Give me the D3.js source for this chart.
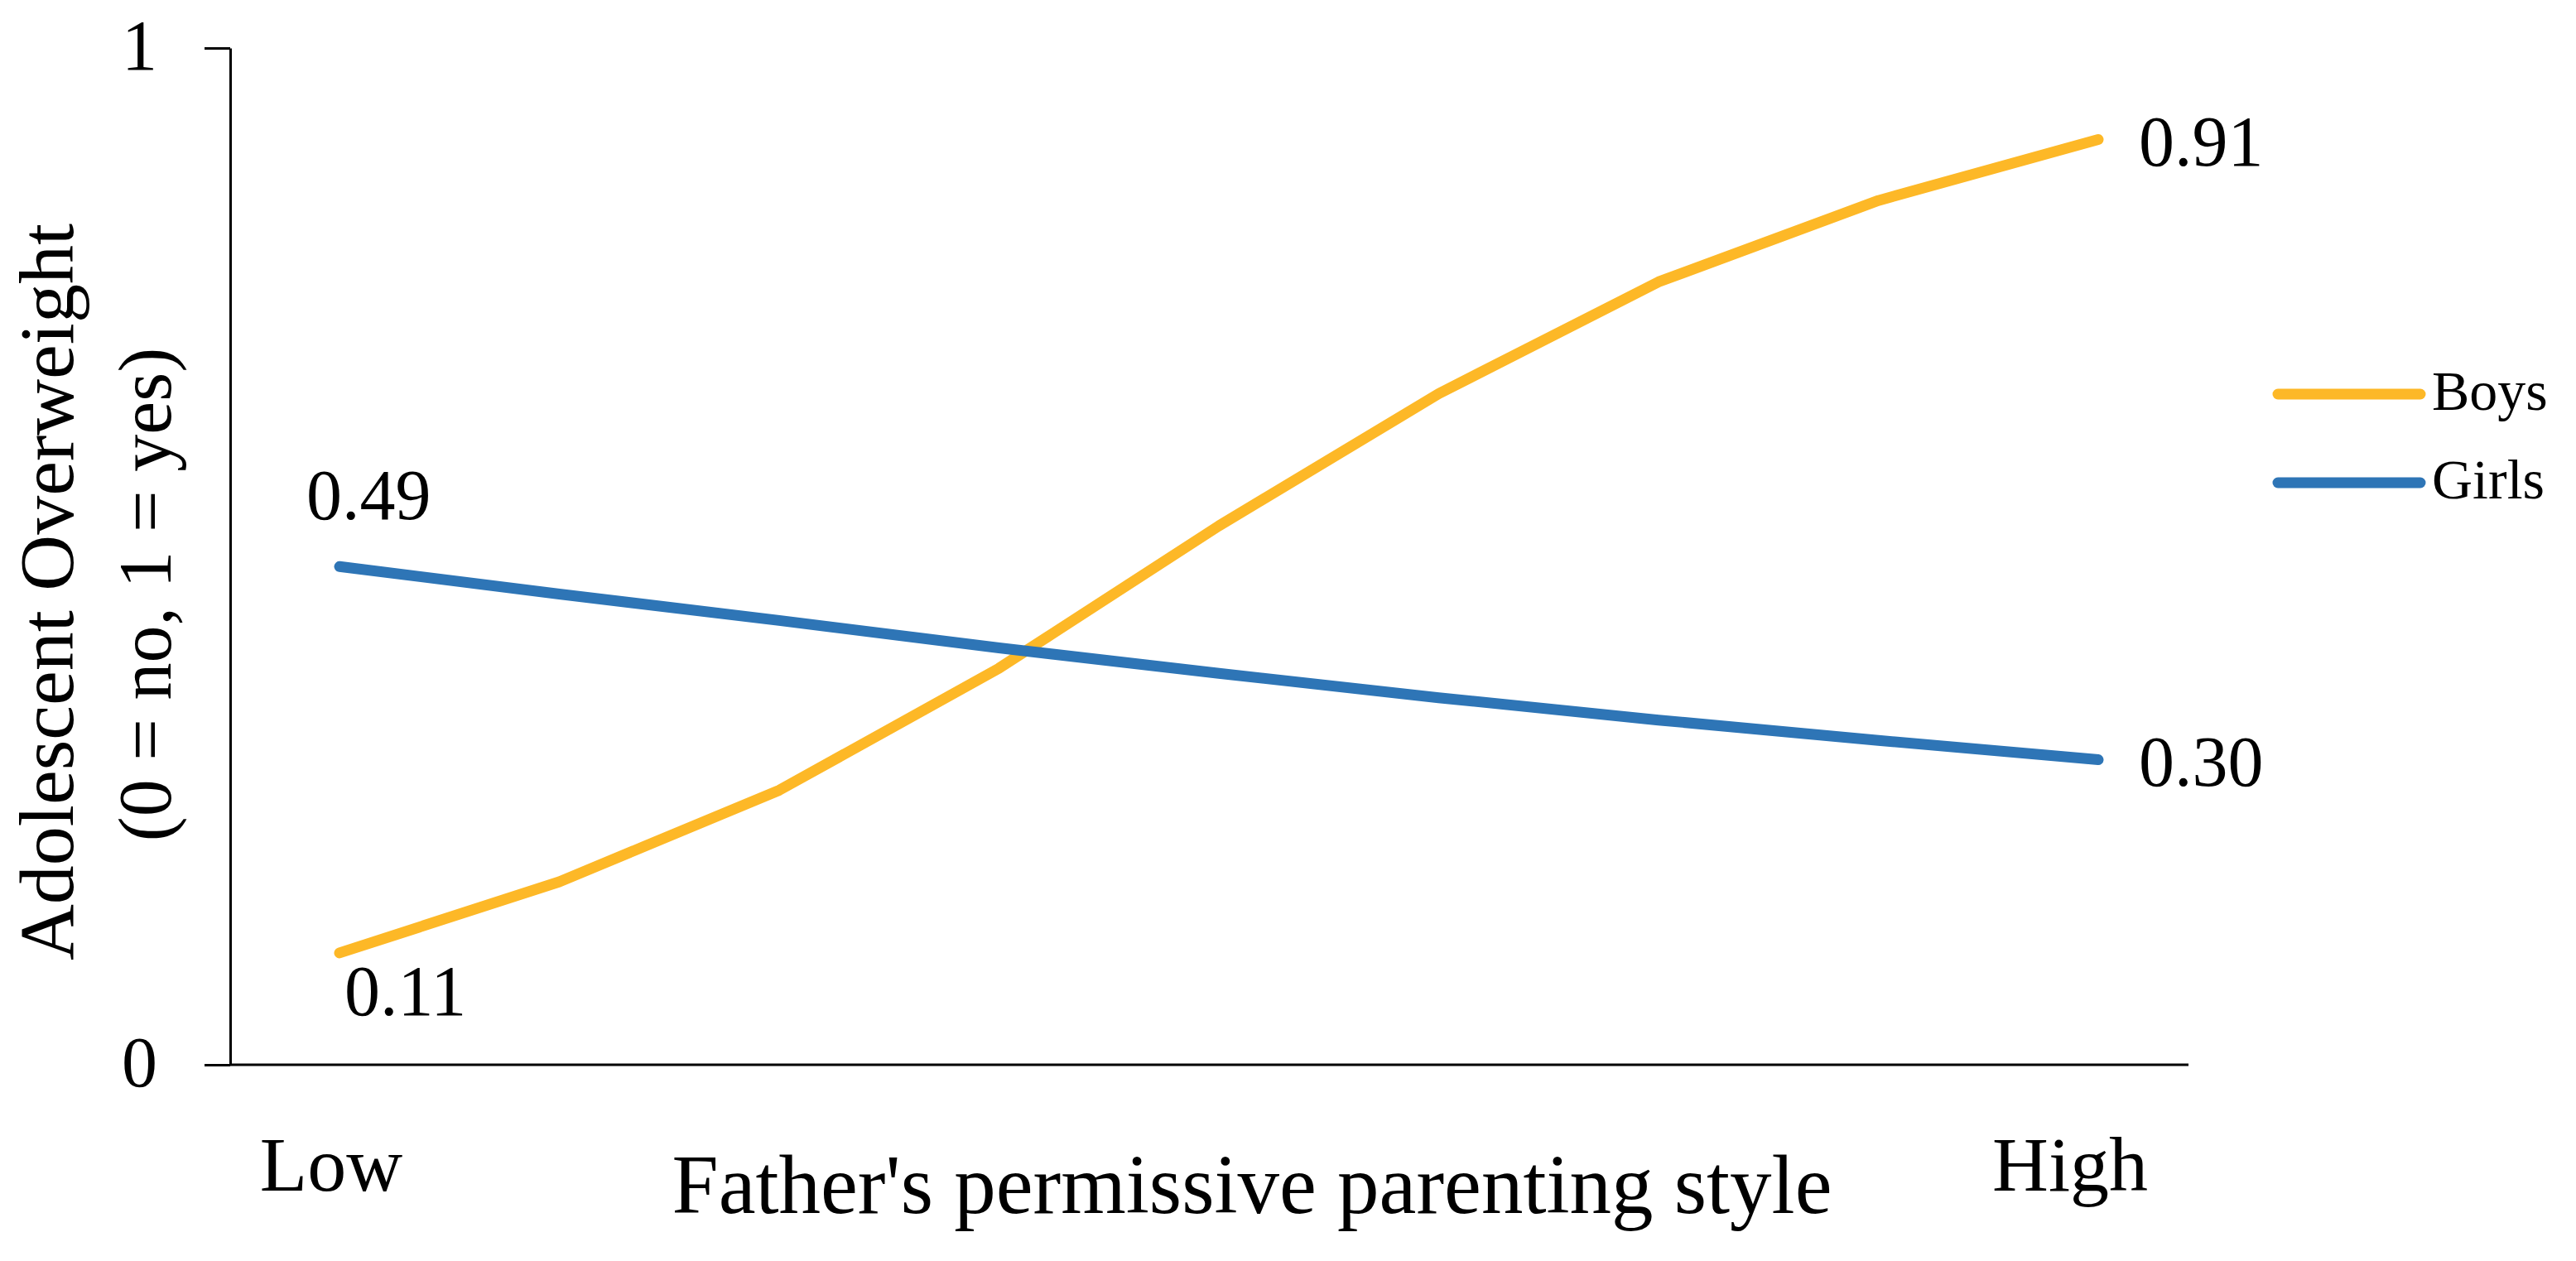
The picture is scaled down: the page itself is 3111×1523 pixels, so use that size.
<!DOCTYPE html>
<html>
<head>
<meta charset="utf-8">
<script src="https://cdn.jsdelivr.net/npm/d3@7"></script>
<style>
  html, body { margin: 0; padding: 0; background: #fff; }
  svg text { font-family: 'Palatino Linotype', 'Book Antiqua', Palatino, 'Liberation Serif', 'Times New Roman', serif; fill: #000; }
</style>
</head>
<body>
<svg id="chart"></svg>
<script>
// nine levels of father's permissive parenting, low to high
const levels = [1, 2, 3, 4, 5, 6, 7, 8, 9];
const boys = [0.11, 0.18, 0.27, 0.39, 0.53, 0.66, 0.77, 0.85, 0.91];
const girls = [0.49, 0.463, 0.437, 0.41, 0.385, 0.361, 0.339, 0.319, 0.30];
const seriesNames = ['Boys', 'Girls'];
const seriesColors = ['#FDB827', '#2E75B6'];
const yTicks = [0, 1];
const xTickLabels = ['Low', 'High'];
const xTitle = "Father's permissive parenting style";
const yTitle = ['Adolescent Overweight', '(0 = no, 1 = yes)'];

const w = 3111;
const h = 1523;
const plot = { left: 278, right: 2643, top: 58, bottom: 1286 };

const svg = d3.select('#chart')
  .attr('width', w)
  .attr('height', h)
  .attr('viewBox', `0 0 ${w} ${h}`);

const xScale = d3.scalePoint()
  .domain(levels)
  .range([410, 2534]);
const yScale = d3.scaleLinear()
  .domain([0, 1])
  .range([plot.bottom, plot.top]);

// y axis with the two outer ticks
const yAxis = svg.append('g')
  .attr('class', 'y-axis')
  .attr('transform', `translate(${plot.left}, 0)`)
  .call(d3.axisLeft(yScale)
    .tickValues(yTicks)
    .tickSize(31)
    .tickSizeOuter(0)
    .tickPadding(57)
    .tickFormat(d3.format('d')));
yAxis.select('.domain').attr('stroke', '#000').attr('stroke-width', 3);
yAxis.selectAll('.tick line').attr('stroke', '#000').attr('stroke-width', 3);
yAxis.selectAll('.tick text')
  .attr('dy', 25)
  .style('font-size', '86px');

// x axis line
svg.append('line')
  .attr('class', 'x-axis')
  .attr('x1', plot.left)
  .attr('x2', plot.right)
  .attr('y1', yScale(0))
  .attr('y2', yScale(0))
  .attr('stroke', '#000')
  .attr('stroke-width', 3);

svg.selectAll('.x-label')
  .data(xTickLabels)
  .enter()
  .append('text')
  .attr('class', 'x-label')
  .attr('x', (d, i) => i === 0 ? xScale(levels[0]) - 10 : xScale(levels[levels.length - 1]) - 34)
  .attr('y', 1438)
  .attr('text-anchor', 'middle')
  .style('font-size', '94px')
  .text(d => d);

svg.append('text')
  .attr('x', 1512)
  .attr('y', 1465)
  .attr('text-anchor', 'middle')
  .style('font-size', '101px')
  .text(xTitle);

svg.selectAll('.y-title')
  .data(yTitle)
  .enter()
  .append('text')
  .attr('class', 'y-title')
  .attr('transform', (d, i) => `translate(${i === 0 ? 88 : 206}, ${i === 0 ? 715 : 718}) rotate(-90)`)
  .attr('text-anchor', 'middle')
  .style('font-size', (d, i) => i === 0 ? '94px' : '90px')
  .text(d => d);

const line = d3.line()
  .x((d, i) => xScale(levels[i]))
  .y(d => yScale(d));

const series = [boys, girls];

svg.selectAll('.series')
  .data(series)
  .enter()
  .append('path')
  .attr('class', 'series')
  .attr('d', d => line(d))
  .attr('fill', 'none')
  .attr('stroke', (d, i) => seriesColors[i])
  .attr('stroke-width', 13)
  .attr('stroke-linecap', 'round')
  .attr('stroke-linejoin', 'round');

// end-point labels
const first = 0;
const last = levels.length - 1;
const endLabels = [
  { v: boys[first], i: first, dx: 6, dy: 75, anchor: 'start' },
  { v: girls[first], i: first, dx: -40, dy: -57, anchor: 'start' },
  { v: boys[last], i: last, dx: 49, dy: 31, anchor: 'start' },
  { v: girls[last], i: last, dx: 49, dy: 31, anchor: 'start' }
];

svg.selectAll('.end-label')
  .data(endLabels)
  .enter()
  .append('text')
  .attr('class', 'end-label')
  .attr('x', d => xScale(levels[d.i]) + d.dx)
  .attr('y', d => yScale(d.v) + d.dy)
  .attr('text-anchor', d => d.anchor)
  .style('font-size', '86px')
  .text(d => d3.format('.2f')(d.v));

// legend
const legend = svg.append('g')
  .attr('class', 'legend')
  .attr('transform', 'translate(2751, 476)');

legend.selectAll('line')
  .data(seriesNames)
  .enter()
  .append('line')
  .attr('x1', 0)
  .attr('x2', 172)
  .attr('y1', (d, i) => i * 107)
  .attr('y2', (d, i) => i * 107)
  .attr('stroke', (d, i) => seriesColors[i])
  .attr('stroke-width', 13)
  .attr('stroke-linecap', 'round');

legend.selectAll('text')
  .data(seriesNames)
  .enter()
  .append('text')
  .attr('x', 186)
  .attr('y', (d, i) => i * 107 + 19)
  .style('font-size', '68px')
  .text(d => d);
</script>
</body>
</html>
